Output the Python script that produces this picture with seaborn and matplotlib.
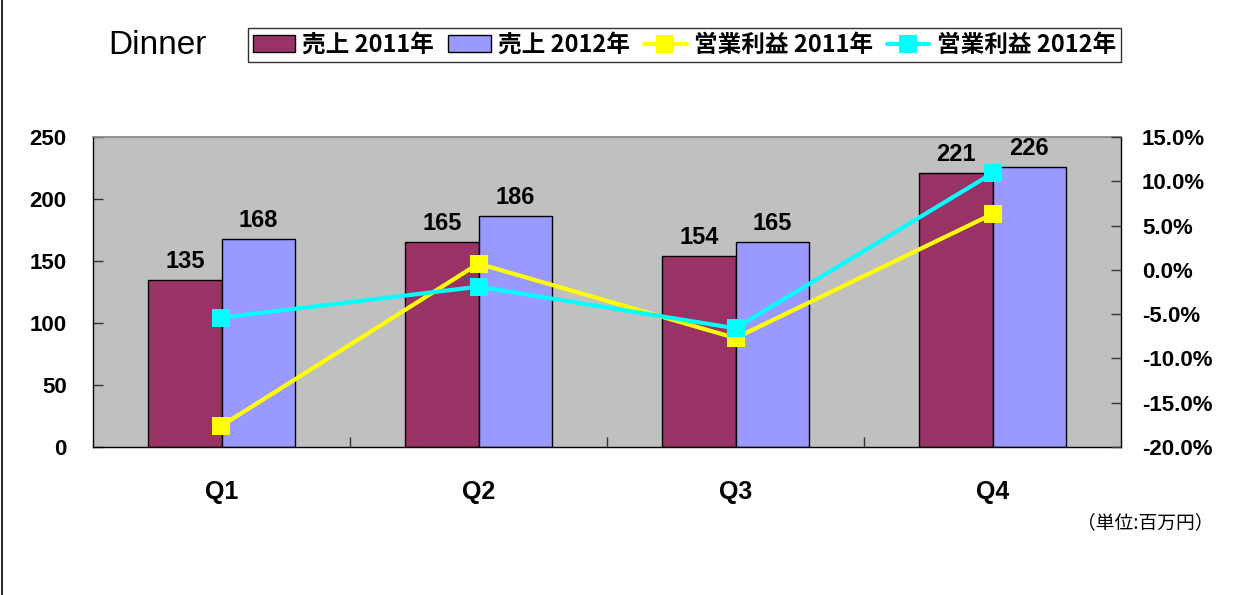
import pandas as pd
import seaborn as sns
import matplotlib.pyplot as plt
from matplotlib.lines import Line2D
from matplotlib.patches import Patch

# data
quarters = ['Q1', 'Q2', 'Q3', 'Q4']
sales_2011 = [135, 165, 154, 221]
sales_2012 = [168, 186, 165, 226]
profit_2011 = [-17.6, 0.7, -7.7, 6.3]
profit_2012 = [-5.4, -1.9, -6.6, 10.9]

sns.set_theme(style='white')
plt.rcParams['font.family'] = ['Liberation Sans', 'Noto Sans CJK JP', 'DejaVu Sans']
plt.rcParams['text.color'] = 'black'

maroon = '#993366'
lilac = '#9999FF'
yellow = '#FFFF00'
cyan = '#00FFFF'

sales = pd.DataFrame({
    'quarter': quarters * 2,
    'sales': sales_2011 + sales_2012,
    'year': ['売上 2011年'] * 4 + ['売上 2012年'] * 4,
})

fig = plt.figure(figsize=(12.41, 5.95), dpi=100)
ax = fig.add_axes([93 / 1241, 148 / 595, 1028 / 1241, 310 / 595])
ax.set_facecolor('#C0C0C0')

sns.barplot(data=sales, x='quarter', y='sales', hue='year',
            palette=[maroon, lilac], width=0.571, gap=0,
            edgecolor='black', linewidth=1, saturation=1, ax=ax, legend=False)

for cont in ax.containers:
    ax.bar_label(cont, fmt='%d', padding=5, fontsize=17, fontweight='bold', color='black')

ax.set_ylim(0, 250)
ax.set_xlim(-0.5, 3.5)
ax.set_yticks(range(0, 251, 50))
ax.set_xticks([0.5, 1.5, 2.5], minor=True)
ax.set_xlabel('')
ax.set_ylabel('')
ax.tick_params(axis='y', direction='in', length=7, width=1, color='#333333',
               labelsize=16, labelcolor='black', pad=19, left=True)
ax.tick_params(axis='x', which='major', length=0, labelsize=18, labelcolor='black', pad=24)
ax.tick_params(axis='x', which='minor', direction='in', length=7, width=1,
               color='#333333', bottom=True)
for lbl in ax.get_yticklabels() + ax.get_xticklabels():
    lbl.set_fontweight('bold')
for side in ['left', 'bottom', 'right']:
    ax.spines[side].set_color('black')
    ax.spines[side].set_linewidth(1)
ax.spines['top'].set_color('#888888')

# operating profit on the right axis
ax2 = ax.twinx()
profit = pd.DataFrame({
    'pos': list(range(4)) * 2,
    'profit': profit_2011 + profit_2012,
    'year': ['営業利益 2011年'] * 4 + ['営業利益 2012年'] * 4,
})
sns.lineplot(data=profit, x='pos', y='profit', hue='year',
             palette=[yellow, cyan], marker='s', markersize=13,
             markeredgewidth=0, linewidth=3, ax=ax2, legend=False)
ax2.set_ylim(-20, 15)
ax2.set_xlim(-0.5, 3.5)
ax2.set_yticks(range(-20, 16, 5))
ax2.set_yticklabels([f'{v:.1f}%' if v >= 0 else f'-{abs(v):.1f}%' for v in range(-20, 16, 5)])
ax2.set_xlabel('')
ax2.set_ylabel('')
ax2.tick_params(axis='y', direction='in', length=7, width=1, color='#333333',
                labelsize=16, labelcolor='black', pad=15, right=True)
for lbl in ax2.get_yticklabels():
    lbl.set_fontweight('bold')
for sp in ax2.spines.values():
    sp.set_visible(False)

# title, legend, unit note
fig.text(108 / 1241, 1 - 45 / 595, 'Dinner', fontsize=24, va='center', ha='left')

handles = [
    Patch(facecolor=maroon, edgecolor='black', linewidth=1),
    Patch(facecolor=lilac, edgecolor='black', linewidth=1),
    Line2D([], [], color=yellow, lw=3, marker='s', markersize=13, markeredgewidth=0),
    Line2D([], [], color=cyan, lw=3, marker='s', markersize=13, markeredgewidth=0),
]
labels = ['売上 2011年', '売上 2012年', '営業利益 2011年', '営業利益 2012年']
leg = fig.legend(handles, labels, loc='center left', ncol=4,
                 bbox_to_anchor=(248 / 1241, 1 - 45 / 595),
                 frameon=True, fancybox=False, edgecolor='black',
                 prop={'family': ['Noto Sans CJK JP'], 'weight': 'bold', 'size': 17},
                 handlelength=1.8, handletextpad=0.3, columnspacing=0.6,
                 borderpad=0.2, borderaxespad=0)
leg.get_frame().set_linewidth(1)

fig.text(1214 / 1241, 1 - 523 / 595, '（単位:百万円）', fontsize=13.5, ha='right', va='center',
         family=['Noto Sans CJK JP', 'DejaVu Sans'])

fig.add_artist(Line2D([2 / 1241, 2 / 1241], [0, 1], color='black', lw=1.2,
                      transform=fig.transFigure))

fig.savefig('out.png', dpi=100, facecolor='white')
